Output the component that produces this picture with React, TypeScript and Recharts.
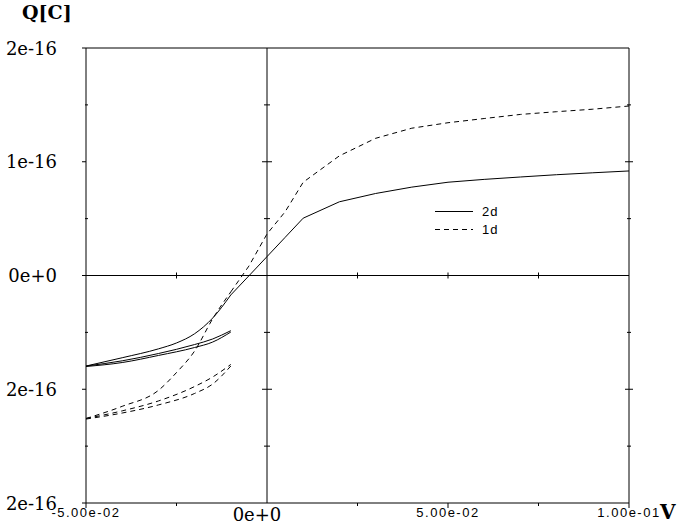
import React from "react";
import {
  LineChart,
  Line,
  XAxis,
  YAxis,
  ReferenceLine,
  ReferenceDot,
  Legend,
} from "recharts";

// Bias voltage samples (V) for the forward sweep
const xSweep = [-0.05, -0.04, -0.03, -0.025, -0.02, -0.015, -0.01, -0.005, 0, 0.005, 0.01, 0.02, 0.03, 0.04, 0.05, 0.06, 0.07, 0.08, 0.09, 0.1];
// Charge in units of 1e-16 C
const q2dSweep = [-0.796, -0.723, -0.645, -0.593, -0.512, -0.374, -0.171, -0.003, 0.166, 0.335, 0.504, 0.648, 0.721, 0.777, 0.82, 0.845, 0.866, 0.886, 0.903, 0.919];
const q1dSweep = [-1.257, -1.15, -1.01, -0.853, -0.664, -0.38, -0.144, 0.083, 0.365, 0.56, 0.82, 1.052, 1.206, 1.295, 1.343, 1.38, 1.416, 1.44, 1.462, 1.49];

// Short return branches
const xReturn = [-0.05, -0.04, -0.03, -0.02, -0.015, -0.01];
const q2dReturnA = [-0.796, -0.75, -0.686, -0.607, -0.558, -0.485];
const q2dReturnB = [-0.8, -0.765, -0.703, -0.633, -0.585, -0.497];
const q1dReturnA = [-1.257, -1.19, -1.103, -0.976, -0.892, -0.782];
const q1dReturnB = [-1.262, -1.209, -1.138, -1.037, -0.954, -0.796];

const xTicks = [-0.05, -0.025, 0, 0.025, 0.05, 0.075, 0.1];
const xTickLabels: Record<string, string> = {
  "-0.05": "-5.00e-02",
  "0": "0e+0",
  "0.05": "5.00e-02",
  "0.1": "1.00e-01",
};
const yTicks = [-2, -1.5, -1, -0.5, 0, 0.5, 1, 1.5, 2];
const yTickLabels: Record<string, string> = {
  "2": "2e-16",
  "1": "1e-16",
  "0": "0e+0",
  "-1": "2e-16",
  "-2": "2e-16",
};
const centerYTicks = [-1.5, -1, -0.5, 0.5, 1, 1.5];
const centerXTicks = [-0.025, 0.025, 0.05, 0.075];

const legendItems = [
  { name: "2d", dash: undefined as string | undefined },
  { name: "1d", dash: "5 4" },
];

const toPts = (xs: number[], ys: number[]) => xs.map((x, i) => ({ x, y: ys[i] }));
const SPLIT = -0.01;
const lowPart = (xs: number[], ys: number[]) => toPts(xs, ys).filter((p) => p.x <= SPLIT + 1e-9);
const highPart = (xs: number[], ys: number[]) => toPts(xs, ys).filter((p) => p.x >= SPLIT - 1e-9);

const SERIF = "'DejaVu Serif', serif";
const SANS = "'Liberation Sans', Arial, sans-serif";

const XTick = (props: any) => {
  const { x, y, payload } = props;
  const v = payload.value;
  const key = String(Math.round(v * 1000) / 1000);
  const label = xTickLabels[key];
  const major = label !== undefined;
  const isZero = Math.abs(v) < 1e-9;
  return (
    <g>
      {!isZero && (
        <line x1={x} x2={x} y1={y} y2={y + (major ? 5 : 3)} stroke="#000" strokeWidth={1} />
      )}
      {label && isZero && (
        <text x={x - 10} y={y + 18} textAnchor="middle" fontFamily={SERIF} fontSize={18} fill="#000">
          {label}
        </text>
      )}
      {label && !isZero && (
        <text x={x} y={y + 14} textAnchor="middle" fontFamily={SANS} fontSize={13} letterSpacing={1.5} fill="#000">
          {label}
        </text>
      )}
    </g>
  );
};

const YTick = (props: any) => {
  const { x, y, payload } = props;
  const v = payload.value;
  const label = yTickLabels[String(v)];
  const major = label !== undefined;
  return (
    <g>
      {major ? (
        <line x1={x - 4} x2={x} y1={y} y2={y} stroke="#000" strokeWidth={1} />
      ) : (
        <line x1={x - 1} x2={x + 2} y1={y} y2={y} stroke="#000" strokeWidth={1} />
      )}
      {label && (
        <text x={x - 29} y={y} textAnchor="end" dominantBaseline="central" fontFamily={SERIF} fontSize={18} fill="#000">
          {label}
        </text>
      )}
    </g>
  );
};

const hTickShape = (half: number) => (p: any) => (
  <line x1={p.cx - half} x2={p.cx + half} y1={p.cy} y2={p.cy} stroke="#000" strokeWidth={1} />
);
const vTickShape = (half: number) => (p: any) => (
  <line x1={p.cx} x2={p.cx} y1={p.cy - half} y2={p.cy + half} stroke="#000" strokeWidth={1} />
);

const LegendContent = () => (
  <div style={{ fontFamily: SANS, fontSize: 13, letterSpacing: 1, color: "#000" }}>
    {legendItems.map((it) => (
      <div key={it.name} style={{ display: "flex", alignItems: "center", height: 18 }}>
        <svg width={40} height={10} style={{ display: "block" }}>
          <line x1={0} x2={38} y1={5.5} y2={5.5} stroke="#000" strokeWidth={1} strokeDasharray={it.dash} />
        </svg>
        <span style={{ marginLeft: 7 }}>{it.name}</span>
      </div>
    ))}
  </div>
);

const common = { dataKey: "y", stroke: "#000", strokeWidth: 1, dot: false, isAnimationActive: false } as const;

export default function App() {
  return (
    <div style={{ position: "absolute", left: 0, top: 0, width: 682, height: 525, background: "#fff" }}>
      <div style={{ position: "absolute", left: 22, top: 1, fontFamily: SERIF, fontWeight: "bold", fontSize: 19, color: "#000" }}>
        Q[C]
      </div>
      <div style={{ position: "absolute", left: 660, top: 500, fontFamily: SERIF, fontWeight: "bold", fontSize: 20, color: "#000" }}>
        V
      </div>
      <LineChart width={682} height={525} margin={{ top: 48, right: 53, bottom: 0, left: 0 }}>
        <XAxis
          dataKey="x"
          type="number"
          domain={[-0.05, 0.1]}
          ticks={xTicks}
          interval={0}
          allowDataOverflow
          height={22}
          tickSize={0}
          tickMargin={0}
          tickLine={false}
          axisLine={{ stroke: "#000", strokeWidth: 1 }}
          tick={<XTick />}
        />
        <YAxis
          type="number"
          domain={[-2, 2]}
          ticks={yTicks}
          interval={0}
          allowDataOverflow
          width={86}
          tickSize={0}
          tickMargin={0}
          tickLine={false}
          axisLine={{ stroke: "#000", strokeWidth: 1 }}
          tick={<YTick />}
        />
        <ReferenceLine y={2} stroke="#000" strokeWidth={1} ifOverflow="visible" />
        <ReferenceLine x={0.1} stroke="#000" strokeWidth={1} ifOverflow="visible" />
        <ReferenceLine x={0} stroke="#000" strokeWidth={1} />
        <ReferenceLine y={0} stroke="#000" strokeWidth={1} />
        {centerYTicks.map((v) => (
          <ReferenceDot key={"cy" + v} x={0} y={v} r={0} ifOverflow="visible" shape={hTickShape(Number.isInteger(v) ? 5 : 3)} />
        ))}
        {centerYTicks.map((v) => (
          <ReferenceDot key={"ry" + v} x={0.1} y={v} r={0} ifOverflow="visible" shape={hTickShape(Number.isInteger(v) ? 4 : 2)} />
        ))}
        {centerXTicks.map((v) => (
          <ReferenceDot key={"cx" + v} x={v} y={0} r={0} ifOverflow="visible" shape={vTickShape(3)} />
        ))}
        <Line {...common} data={lowPart(xSweep, q2dSweep)} type="monotone" />
        <Line {...common} data={highPart(xSweep, q2dSweep)} type="linear" />
        <Line {...common} data={toPts(xReturn, q2dReturnA)} type="monotone" />
        <Line {...common} data={toPts(xReturn, q2dReturnB)} type="monotone" />
        <Line {...common} data={lowPart(xSweep, q1dSweep)} type="monotone" strokeDasharray="5 4" />
        <Line {...common} data={highPart(xSweep, q1dSweep)} type="linear" strokeDasharray="5 4" />
        <Line {...common} data={toPts(xReturn, q1dReturnA)} type="monotone" strokeDasharray="5 4" />
        <Line {...common} data={toPts(xReturn, q1dReturnB)} type="monotone" strokeDasharray="5 4" />
        <Legend
          layout="horizontal"
          verticalAlign="middle"
          align="center"
          content={<LegendContent />}
          wrapperStyle={{ top: 202, left: 435, width: 80, height: 40 }}
        />
      </LineChart>
    </div>
  );
}
